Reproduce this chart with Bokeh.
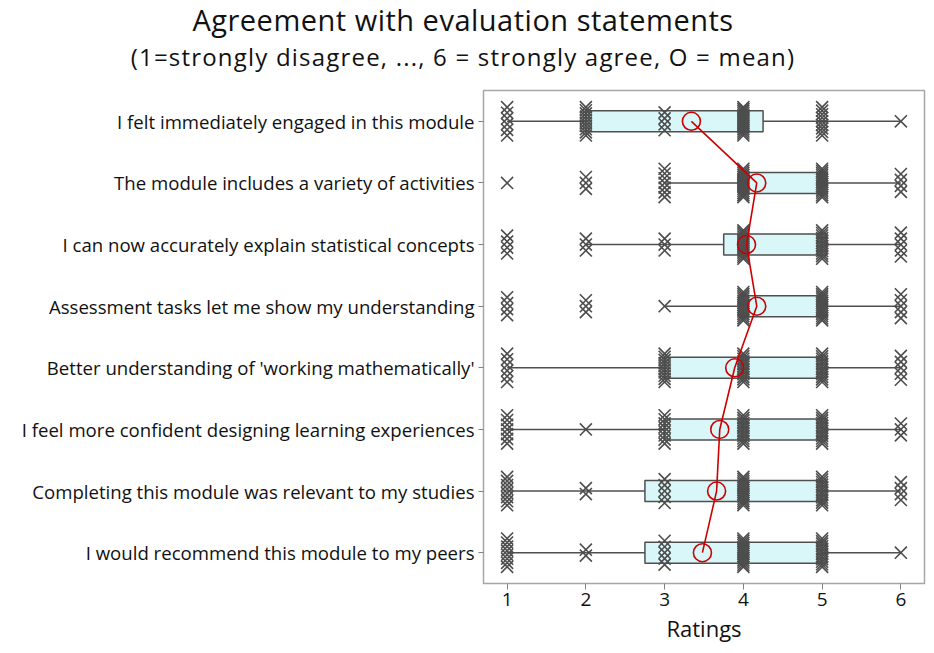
import numpy as np
from bokeh.plotting import figure
from bokeh.models import FixedTicker, Range1d, Div
from bokeh.layouts import column
from bokeh.embed import file_html
from bokeh.resources import INLINE

# ---- data ----
statements = [
    "I felt immediately engaged in this module",
    "The module includes a variety of activities",
    "I can now accurately explain statistical concepts",
    "Assessment tasks let me show my understanding",
    "Better understanding of 'working mathematically'",
    "I feel more confident designing learning experiences",
    "Completing this module was relevant to my studies",
    "I would recommend this module to my peers",
]
ratings = [1, 2, 3, 4, 5, 6]
# estimated number of responses at each rating (1..6), per statement
counts_engaged = [6, 10, 4, 15, 9, 1]
counts_variety = [1, 3, 7, 15, 14, 4]
counts_explain = [4, 3, 3, 15, 12, 5]
counts_assess = [4, 3, 1, 14, 14, 5]
counts_workmath = [6, 0, 10, 12, 12, 5]
counts_confident = [7, 1, 8, 12, 12, 3]
counts_relevant = [8, 2, 5, 14, 12, 4]
counts_recommend = [8, 2, 5, 14, 12, 1]
counts = [counts_engaged, counts_variety, counts_explain, counts_assess,
          counts_workmath, counts_confident, counts_relevant, counts_recommend]

q1 = [2.0, 4.0, 3.75, 4.0, 3.0, 3.0, 2.75, 2.75]
median = [4.0, 4.0, 4.0, 4.0, 4.0, 4.0, 4.0, 4.0]
q3 = [4.25, 5.0, 5.0, 5.0, 5.0, 5.0, 5.0, 5.0]
whisker_low = [1, 3, 2, 3, 1, 1, 1, 1]
whisker_high = [6, 6, 6, 6, 6, 6, 6, 6]
means = [3.34, 4.17, 4.04, 4.17, 3.89, 3.70, 3.66, 3.48]

title_text = "Agreement with evaluation statements"
subtitle_text = "(1=strongly disagree, ..., 6 = strongly agree, O = mean)"
x_label = "Ratings"

# ---- styling ----
FONT = "Open Sans"
GRAY = "#4F4F4F"
BOX_FILL = "#D9F7F9"
RED = "#CC0000"
TXT = "#111111"
W = 926

n = len(statements)
ypos = [n - i for i in range(n)]  # top row = n

header = Div(
    text=(f'<div style="font-size:29px;line-height:40px;letter-spacing:0.5px;">{title_text}</div>'
          f'<div style="font-size:24px;line-height:34px;letter-spacing:1.2px;">{subtitle_text}</div>'),
    width=W, height=88, margin=0,
    styles={"text-align": "center", "font-family": "'Open Sans', sans-serif",
            "color": TXT, "width": f"{W}px"},
)

p = figure(width=W, height=557, output_backend="svg", toolbar_location=None,
           x_range=Range1d(0.7, 6.3), y_range=Range1d(0.5, 8.5),
           min_border_left=483, min_border_right=2, min_border_top=2,
           min_border_bottom=60)
p.xgrid.visible = False
p.ygrid.visible = False
p.outline_line_color = "#A6A6A6"
p.outline_line_width = 1.5
p.background_fill_color = "white"

# whiskers
p.segment(x0=whisker_low, y0=ypos, x1=whisker_high, y1=ypos,
          line_color=GRAY, line_width=1.5)
# boxes
half = 0.17
p.quad(left=q1, right=q3, bottom=[y - half for y in ypos], top=[y + half for y in ypos],
       fill_color=BOX_FILL, line_color=GRAY, line_width=1.5)
# medians
p.segment(x0=median, y0=[y - half for y in ypos], x1=median, y1=[y + half for y in ypos],
          line_color=GRAY, line_width=1.5)

# individual responses, stacked vertically at each rating
step = 0.0485
cap = 0.23
xs, ys = [], []
for yi, row in zip(ypos, counts):
    for r, c in zip(ratings, row):
        if c <= 0:
            continue
        h = min(cap, step * (c - 1))
        offs = np.linspace(-h, h, c) if c > 1 else np.array([0.0])
        xs.extend([r] * c)
        ys.extend(list(yi + offs))
p.scatter(xs, ys, marker="x", size=17, line_color="#4D4D4D", line_width=1.6)

# means
p.line(means, ypos, line_color=RED, line_width=1.6)
p.scatter(means, ypos, marker="circle", size=18, fill_color=None,
          line_color=RED, line_width=1.6)

# axes
p.yaxis.ticker = FixedTicker(ticks=ypos)
p.yaxis.major_label_overrides = {y: s for y, s in zip(ypos, statements)}
p.yaxis.major_label_text_font = FONT
p.yaxis.major_label_text_font_size = "18.6px"
p.yaxis.major_label_text_color = TXT
p.yaxis.axis_line_color = None
p.yaxis.major_tick_line_color = "#808080"
p.yaxis.major_tick_in = 0
p.yaxis.major_tick_out = 5
p.yaxis.minor_tick_line_color = None
p.yaxis.major_label_standoff = 4

p.xaxis.ticker = FixedTicker(ticks=ratings)
p.xaxis.major_label_text_font = FONT
p.xaxis.major_label_text_font_size = "19px"
p.xaxis.major_label_text_color = TXT
p.xaxis.axis_line_color = None
p.xaxis.major_tick_line_color = "#808080"
p.xaxis.major_tick_in = 0
p.xaxis.major_tick_out = 6
p.xaxis.minor_tick_line_color = None
p.xaxis.major_label_standoff = 3
p.xaxis.axis_label = x_label
p.xaxis.axis_label_text_font = FONT
p.xaxis.axis_label_text_font_size = "22px"
p.xaxis.axis_label_text_font_style = "normal"
p.xaxis.axis_label_text_color = TXT
p.xaxis.axis_label_standoff = 4

layout = column(header, p, spacing=0)
open("out.html", "w").write(file_html(layout, INLINE))
